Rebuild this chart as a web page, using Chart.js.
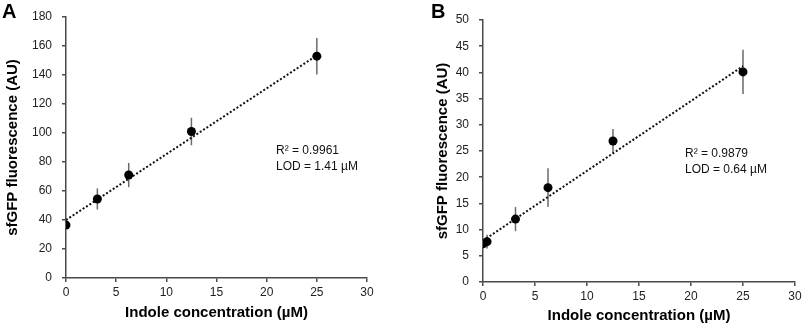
<!DOCTYPE html>
<html>
<head>
<meta charset="utf-8">
<script src="https://cdn.jsdelivr.net/npm/chart.js@4/dist/chart.umd.min.js"></script>
<style>
    html, body { margin: 0; padding: 0; background: #fff; overflow: hidden; }
    body { width: 803px; height: 327px; position: relative; font-family: Arial, "Liberation Sans", sans-serif; }
    .wrap { position: absolute; top: 0; height: 327px; }
    .panel-tag { position: absolute; font-weight: bold; font-size: 20px; color: #000; line-height: 20px; }
    .note { position: absolute; font-size: 12px; line-height: 16px; color: #111; white-space: nowrap; }
</style>
</head>
<body>
<div class="wrap" style="left:0;width:400px;"><canvas id="chart-a"></canvas></div>
<div class="wrap" style="left:400px;width:403px;"><canvas id="chart-b"></canvas></div>
<div class="panel-tag" style="left:2px;top:1px;">A</div>
<div class="panel-tag" style="left:431px;top:1px;">B</div>
<div class="note" style="left:276px;top:142px;">R² = 0.9961<br>LOD = 1.41 µM</div>
<div class="note" style="left:685px;top:145px;">R² = 0.9879<br>LOD = 0.64 µM</div>
<script>
// panel A
const xA = [0, 3.125, 6.25, 12.5, 25];
const yA = [36.5, 54.5, 71, 101, 153];
const errA = [2, 7.3, 8.3, 9.5, 12.6];
const trendXA = [0, 25];
const trendYA = [40, 153.5];
const yTicksA = { min: 0, max: 180, step: 20 };

// panel B
const xB = [0, 0.39, 3.125, 6.25, 12.5, 25];
const yB = [7.3, 7.7, 12, 18, 26.9, 40.1];
const errB = [0.6, 1.3, 2.3, 3.7, 2.3, 4.2];
const trendXB = [0, 25];
const trendYB = [7.9, 41.2];
const yTicksB = { min: 0, max: 50, step: 5 };

const xTicks = { min: 0, max: 30, step: 5 };

const FONT = 'Arial, "Liberation Sans", sans-serif';
const AXIS = '#4a4a4a';

// vertical error bars, no caps, drawn under the markers
const errorBars = {
    id: 'errorBars',
    beforeDatasetsDraw(chart, args, opts) {
        const { ctx, scales: { x, y } } = chart;
        ctx.save();
        ctx.strokeStyle = '#6a6a6a';
        ctx.lineWidth = 1.5;
        opts.xs.forEach((v, i) => {
            const px = x.getPixelForValue(v);
            ctx.beginPath();
            ctx.moveTo(px, y.getPixelForValue(opts.ys[i] - opts.errs[i]));
            ctx.lineTo(px, y.getPixelForValue(opts.ys[i] + opts.errs[i]));
            ctx.stroke();
        });
        ctx.restore();
    },
};

function makeChart(id, w, xs, ys, errs, tx, ty, yt, box) {
    const el = document.getElementById(id);
    el.width = w; el.height = 327;
    el.style.width = w + 'px'; el.style.height = '327px';
    return new Chart(el, {
        type: 'scatter',
        data: {
            datasets: [
                { data: xs.map((v, i) => ({ x: v, y: ys[i] })), pointRadius: 4.5, pointHoverRadius: 4.5,
                  backgroundColor: '#000', borderColor: '#000', borderWidth: 0 },
                { data: tx.map((v, i) => ({ x: v, y: ty[i] })), showLine: true, pointRadius: 0,
                  borderColor: '#111', borderWidth: 2, borderDash: [2, 2] },
            ],
        },
        options: {
            responsive: false, animation: false, devicePixelRatio: 1,
            layout: { padding: box.pad },
            plugins: { legend: { display: false }, tooltip: { enabled: false },
                       errorBars: { xs, ys, errs } },
            scales: {
                x: {
                    type: 'linear', min: xTicks.min, max: xTicks.max,
                    ticks: { stepSize: xTicks.step, color: '#222', font: { family: FONT, size: 12 }, padding: 3, maxRotation: 0 },
                    grid: { drawOnChartArea: false, tickLength: 4, color: AXIS, lineWidth: 1.5 },
                    border: { color: AXIS, width: 1.5 },
                    title: { display: true, text: 'Indole concentration (µM)', color: '#000',
                             font: { family: FONT, size: 15, weight: 'bold' }, padding: 0 },
                    afterFit(s) { s.height = box.xh; s.paddingLeft = 0; s.paddingRight = 0; },
                },
                y: {
                    min: yt.min, max: yt.max,
                    ticks: { stepSize: yt.step, color: '#222', font: { family: FONT, size: 12 }, padding: 10 },
                    grid: { drawOnChartArea: false, tickLength: 4, color: AXIS, lineWidth: 1.5 },
                    border: { color: AXIS, width: 1.5 },
                    title: { display: true, text: 'sfGFP fluorescence (AU)', color: '#000',
                             font: { family: FONT, size: 15, weight: 'bold' }, padding: 4 },
                    afterFit(s) { s.width = box.yw; s.paddingTop = 0; s.paddingBottom = 0; },
                },
            },
        },
        plugins: [errorBars],
    });
}

makeChart('chart-a', 400, xA, yA, errA, trendXA, trendYA, yTicksA,
    { pad: { left: 0, right: 33, top: 17, bottom: 5 }, yw: 66, xh: 44 });
makeChart('chart-b', 403, xB, yB, errB, trendXB, trendYB, yTicksB,
    { pad: { left: 30, right: 8, top: 20, bottom: 2 }, yw: 53, xh: 43 });
</script>
</body>
</html>
